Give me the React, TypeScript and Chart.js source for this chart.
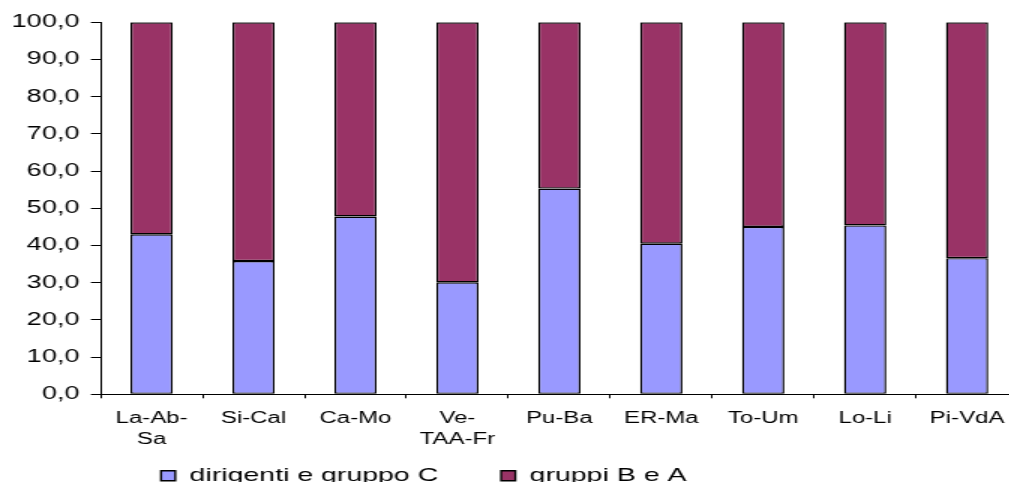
import React, { useEffect, useRef } from "react";
import { Chart, registerables } from "chart.js";

Chart.register(...registerables);

const categories: (string | string[])[] = [
  ["La-Ab-", "Sa"],
  "Si-Cal",
  "Ca-Mo",
  ["Ve-", "TAA-Fr"],
  "Pu-Ba",
  "ER-Ma",
  "To-Um",
  "Lo-Li",
  "Pi-VdA",
];

const dirigentiGruppoC: number[] = [43.0, 35.8, 47.8, 30.1, 55.3, 40.5, 45.0, 45.4, 36.6];
const gruppiBA: number[] = [57.0, 64.2, 52.2, 69.9, 44.7, 59.5, 55.0, 54.6, 63.4];

const seriesLabels: string[] = ["dirigenti e gruppo C", "gruppi B e A"];

const yTickValues: number[] = [0, 10, 20, 30, 40, 50, 60, 70, 80, 90, 100];

const FONT = "'Liberation Sans', Arial, sans-serif";

const legendShift = {
  id: "legendShift",
  afterLayout(chart: any) {
    const lg = chart.legend;
    if (lg) {
      lg.left = 0;
      lg.right = 565;
      lg.width = 565;
      const h = lg.height;
      lg.top = 424.3;
      lg.bottom = 424.3 + h;
    }
  },
};

export default function App() {
  const canvasRef = useRef<HTMLCanvasElement | null>(null);

  useEffect(() => {
    const canvas = canvasRef.current;
    if (!canvas) return;
    const chart = new Chart(canvas, {
      type: "bar",
      data: {
        labels: categories,
        datasets: [
          {
            label: seriesLabels[0],
            data: dirigentiGruppoC,
            backgroundColor: "#9999FF",
            borderColor: "#000000",
            borderWidth: 1.4,
            borderSkipped: false,
          },
          {
            label: seriesLabels[1],
            data: gruppiBA,
            backgroundColor: "#993366",
            borderColor: "#000000",
            borderWidth: 1.4,
            borderSkipped: false,
          },
        ],
      },
      plugins: [legendShift],
      options: {
        responsive: false,
        animation: false,
        devicePixelRatio: 1,
        layout: { padding: { top: 22.3, left: 0, right: 21.3, bottom: 0.8 } },
        datasets: {
          bar: { categoryPercentage: 1, barPercentage: 0.415 },
        },
        plugins: {
          tooltip: { enabled: false },
          title: { display: false },
          legend: {
            position: "bottom",
            align: "center",
            labels: {
              boxWidth: 9.5,
              boxHeight: 10,
              padding: 41.9,
              color: "#000",
              font: { family: FONT, size: 19 },
            },
          },
        },
        scales: {
          x: {
            stacked: true,
            afterFit: (s: any) => {
              s.height = 60;
            },
            grid: {
              offset: true,
              drawOnChartArea: false,
              drawTicks: true,
              tickLength: 4,
              color: "#000",
            },
            border: { display: true, color: "#000", width: 1 },
            ticks: {
              color: "#000",
              maxRotation: 0,
              autoSkip: false,
              padding: 9.8,
              font: { family: FONT, size: 16, lineHeight: 1.3 },
            },
          },
          y: {
            stacked: true,
            min: 0,
            max: 100,
            afterFit: (s: any) => {
              s.width = 67.1;
            },
            afterBuildTicks: (s: any) => {
              s.ticks = yTickValues.map((v) => ({ value: v }));
            },
            grid: {
              drawOnChartArea: false,
              drawTicks: true,
              tickLength: 6.5,
              color: "#000",
            },
            border: { display: true, color: "#000", width: 1 },
            ticks: {
              color: "#000",
              padding: 7.7,
              font: { family: FONT, size: 18 },
              callback: (v: any) => Number(v).toFixed(1).replace(".", ","),
            },
          },
        },
      },
    });
    return () => chart.destroy();
  }, []);

  return (
    <div
      style={{
        position: "fixed",
        left: 0,
        top: 0,
        width: 1009,
        height: 482,
        overflow: "hidden",
        background: "#fff",
      }}
    >
      <div
        style={{
          width: 700,
          height: 526,
          transform: "scaleX(1.5)",
          transformOrigin: "0 0",
        }}
      >
        <canvas
          ref={canvasRef}
          width={700}
          height={526}
          style={{ display: "block", width: 700, height: 526 }}
        />
      </div>
    </div>
  );
}
